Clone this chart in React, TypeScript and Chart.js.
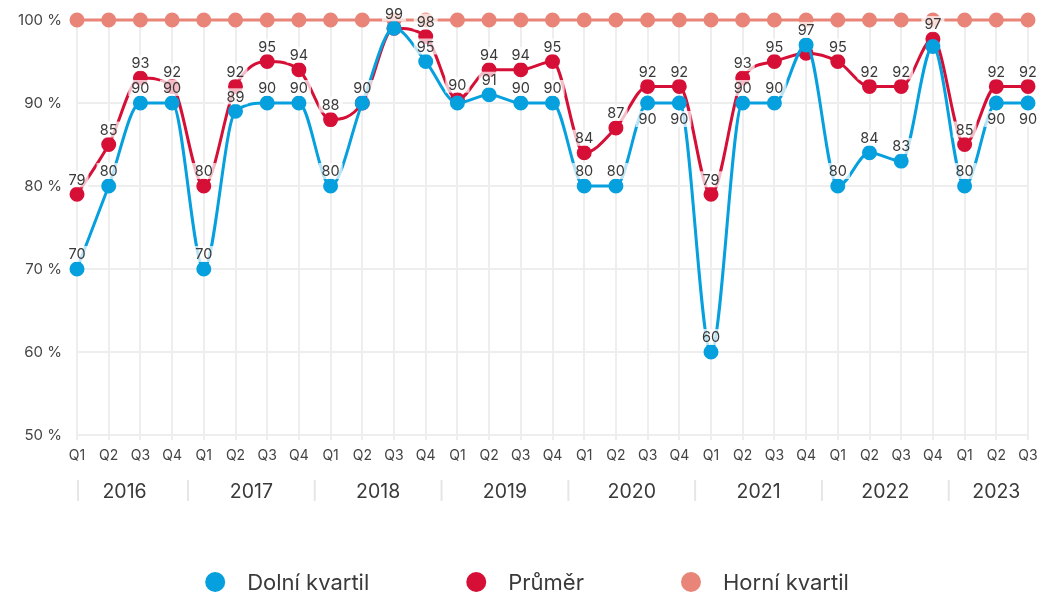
import React, { useEffect, useRef } from 'react';
import { Chart, registerables } from 'chart.js';

Chart.register(...registerables);

const quarterLabels = [
  'Q1', 'Q2', 'Q3', 'Q4',
  'Q1', 'Q2', 'Q3', 'Q4',
  'Q1', 'Q2', 'Q3', 'Q4',
  'Q1', 'Q2', 'Q3', 'Q4',
  'Q1', 'Q2', 'Q3', 'Q4',
  'Q1', 'Q2', 'Q3', 'Q4',
  'Q1', 'Q2', 'Q3', 'Q4',
  'Q1', 'Q2', 'Q3',
];

const years = ['2016', '2017', '2018', '2019', '2020', '2021', '2022', '2023'];

const dolniKvartil = [
  70, 80, 90, 90,
  70, 89, 90, 90,
  80, 90, 99, 95,
  90, 91, 90, 90,
  80, 80, 90, 90,
  60, 90, 90, 97,
  80, 84, 83, 96.8,
  80, 90, 90,
];

const prumer = [
  79, 85, 93, 92,
  80, 92, 95, 94,
  88, 90, 99, 98,
  90.4, 94, 94, 95,
  84, 87, 92, 92,
  79, 93, 95, 96,
  95, 92, 92, 97.7,
  85, 92, 92,
];

const horniKvartil = [
  100, 100, 100, 100,
  100, 100, 100, 100,
  100, 100, 100, 100,
  100, 100, 100, 100,
  100, 100, 100, 100,
  100, 100, 100, 100,
  100, 100, 100, 100,
  100, 100, 100,
];

const yTicks = [50, 60, 70, 80, 90, 100];

const BLUE = '#06a0de';
const RED = '#d60f37';
const SALMON = '#e98478';
const FONT = 'Inter, "Open Sans", sans-serif';
const TEXT = '#3a3a3a';

const labelFmt = (v: number) => String(Math.floor(v + 0.001));

const dataLabelsPlugin = {
  id: 'customDataLabels',
  afterDatasetsDraw(chart: any) {
    const ctx = chart.ctx;
    const metaBlue = chart.getDatasetMeta(0);
    const metaRed = chart.getDatasetMeta(1);
    const blue = chart.data.datasets[0].data as number[];
    const red = chart.data.datasets[1].data as number[];
    ctx.save();
    ctx.font = `14.5px ${FONT}`;
    ctx.textAlign = 'center';
    ctx.textBaseline = 'middle';
    const boxFor = (x: number, y: number, text: string) => {
      const w = ctx.measureText(text).width + 6;
      const h = 16;
      return { x: x - w / 2, y: y - h / 2, w, h, cx: x, cy: y, text };
    };
    const overlap = (a: any, b: any) =>
      a.x < b.x + b.w && b.x < a.x + a.w && a.y < b.y + b.h && b.y < a.y + a.h;
    const draw = (b: any) => {
      ctx.fillStyle = 'rgba(255,255,255,0.72)';
      ctx.fillRect(b.x, b.y, b.w, b.h);
      ctx.fillStyle = TEXT;
      ctx.fillText(b.text, b.cx, b.cy + 1);
    };
    for (let i = 0; i < blue.length; i++) {
      const pb = metaBlue.data[i];
      const pr = metaRed.data[i];
      const diff = red[i] - blue[i];
      const below = i > 3 && diff >= 1.5 && diff <= 2.5;
      const bBox = boxFor(pb.x, below ? pb.y + 16 : pb.y - 15, labelFmt(blue[i]));
      const rBox = boxFor(pr.x, pr.y - 15, labelFmt(red[i]));
      if (overlap(bBox, rBox)) {
        if (blue[i] > red[i]) draw(bBox);
        else draw(rBox);
      } else {
        draw(bBox);
        draw(rBox);
      }
    }
    ctx.restore();
  },
};

const yearAxisPlugin = {
  id: 'yearAxis',
  afterDraw(chart: any) {
    const ctx = chart.ctx;
    const xs = chart.scales.x;
    ctx.save();
    ctx.font = `19.5px ${FONT}`;
    ctx.fillStyle = TEXT;
    ctx.textAlign = 'center';
    ctx.textBaseline = 'middle';
    ctx.strokeStyle = '#e6e6e6';
    ctx.lineWidth = 2;
    const n = quarterLabels.length;
    years.forEach((yr, yi) => {
      const first = yi * 4;
      const last = Math.min(first + 3, n - 1);
      const x1 = xs.getPixelForValue(first);
      const x2 = xs.getPixelForValue(last);
      ctx.fillText(yr, (x1 + x2) / 2, 492);
      let sepX: number;
      if (yi === 0) sepX = x1 + 1;
      else sepX = (x1 + xs.getPixelForValue(first - 1)) / 2;
      ctx.beginPath();
      ctx.moveTo(sepX, 480);
      ctx.lineTo(sepX, 501);
      ctx.stroke();
    });
    // legend
    ctx.font = `22px ${FONT}`;
    ctx.textAlign = 'left';
    const items = chart.data.datasets.map((d: any) => ({
      label: d.label,
      color: d.borderColor,
      w: 42 + ctx.measureText(d.label).width,
    }));
    const gap = 97;
    const total = items.reduce((s: number, it: any) => s + it.w, 0) + gap * (items.length - 1);
    let x = chart.width / 2 - total / 2 + 7;
    const ly = 582;
    items.forEach((it: any) => {
      ctx.fillStyle = it.color;
      ctx.beginPath();
      ctx.arc(x + 10, ly, 10, 0, Math.PI * 2);
      ctx.fill();
      ctx.fillStyle = TEXT;
      ctx.fillText(it.label, x + 42, ly + 1);
      x += it.w + gap;
    });
    ctx.restore();
  },
};

export default function App() {
  const ref = useRef<HTMLCanvasElement>(null);
  useEffect(() => {
    document.body.style.margin = '0';
    const mk = (label: string, data: number[], color: string) => ({
      label,
      data,
      borderColor: color,
      backgroundColor: color,
      pointBackgroundColor: color,
      pointBorderColor: color,
      borderWidth: 3,
      pointRadius: 6,
      pointHoverRadius: 6,
      cubicInterpolationMode: 'monotone' as const,
      clip: false as any,
    });
    const chart = new Chart(ref.current as HTMLCanvasElement, {
      type: 'line',
      data: {
        labels: quarterLabels,
        datasets: [
          mk('Dolní kvartil', dolniKvartil, BLUE),
          mk('Průměr', prumer, RED),
          mk('Horní kvartil', horniKvartil, SALMON),
        ],
      },
      options: {
        animation: false,
        responsive: true,
        maintainAspectRatio: false,
        layout: { padding: { top: 20, right: 12, left: 0, bottom: 84 } },
        plugins: {
          legend: { display: false },
          tooltip: { enabled: false },
        },
        scales: {
          x: {
            offset: false,
            grid: { color: '#eeeeee', lineWidth: 2, tickLength: 5 },
            border: { display: false },
            ticks: {
              autoSkip: false,
              maxRotation: 0,
              padding: 7,
              color: '#444',
              font: { family: FONT, size: 14 },
            },
            afterFit(scale: any) {
              scale.height = 75;
              scale.paddingLeft = 0;
              scale.paddingRight = 0;
            },
          },
          y: {
            min: 50,
            max: 100,
            afterBuildTicks(scale: any) {
              scale.ticks = yTicks.map((v) => ({ value: v }));
            },
            grid: { color: '#eeeeee', lineWidth: 2, drawTicks: false },
            border: { display: false },
            ticks: {
              padding: 15,
              color: '#444',
              font: { family: FONT, size: 15 },
              callback: (v: any) => `${v} %`,
            },
            afterFit(scale: any) {
              scale.width = 77;
              scale.paddingTop = 0;
              scale.paddingBottom = 0;
            },
          },
        },
      },
      plugins: [dataLabelsPlugin, yearAxisPlugin],
    });
    return () => chart.destroy();
  }, []);
  return (
    <div style={{ width: 1040, height: 594, position: 'relative' }}>
      <canvas ref={ref} />
    </div>
  );
}
